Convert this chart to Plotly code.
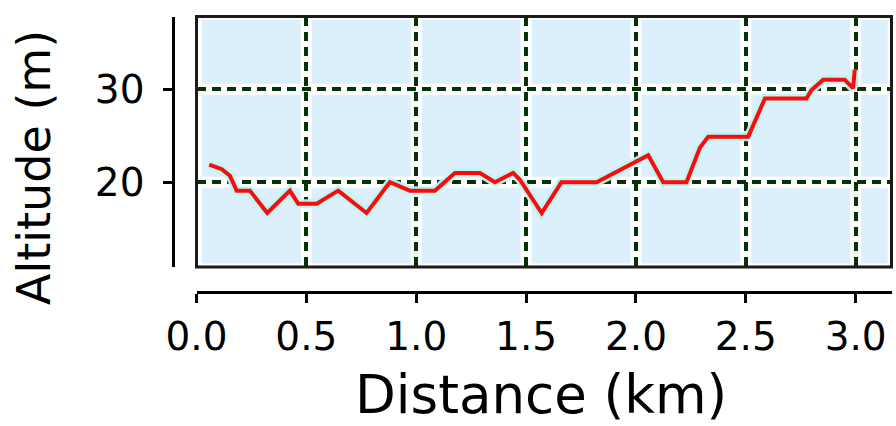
import plotly.graph_objects as go

# ---- data ----
distance_km = [0.058, 0.115, 0.152, 0.183, 0.243, 0.322, 0.425, 0.463, 0.547, 0.645,
               0.774, 0.880, 0.941, 0.971, 1.085, 1.176, 1.290, 1.358, 1.441, 1.471,
               1.571, 1.661, 1.821, 1.995, 2.056, 2.124, 2.230, 2.291, 2.329, 2.511,
               2.587, 2.776, 2.799, 2.852, 2.950, 2.988, 2.996]
altitude_m = [21.9, 21.4, 20.7, 19.1, 19.1, 16.7, 19.1, 17.7, 17.7, 19.1,
              16.7, 20.0, 19.4, 19.1, 19.1, 21.0, 21.0, 20.0, 21.0, 20.3,
              16.7, 20.0, 20.0, 22.1, 22.9, 20.0, 20.0, 23.7, 24.9, 24.9,
              29.0, 29.0, 29.9, 31.0, 31.0, 30.1, 32.1]
x_ticks = [0.0, 0.5, 1.0, 1.5, 2.0, 2.5, 3.0]
x_tick_labels = ["0.0", "0.5", "1.0", "1.5", "2.0", "2.5", "3.0"]
y_ticks = [20, 30]
y_tick_labels = ["20", "30"]

W, H = 896, 426
FONT = "DejaVu Sans"
GRID = "#063306"

fig = go.Figure()

# soft halo under the line
fig.add_trace(go.Scatter(x=distance_km, y=altitude_m, mode="lines",
                         line=dict(color="rgba(185,245,245,0.95)", width=9),
                         hoverinfo="skip", showlegend=False))
fig.add_trace(go.Scatter(x=distance_km, y=altitude_m, mode="lines",
                         line=dict(color="#ff0a0a", width=4),
                         showlegend=False))

shapes = []
# white halos behind the dashed grid
for v in x_ticks:
    shapes.append(dict(type="line", xref="x", yref="y domain", x0=v, x1=v, y0=0, y1=1,
                       line=dict(color="white", width=11), layer="below"))
for v in y_ticks:
    shapes.append(dict(type="line", xref="x domain", yref="y", x0=0, x1=1, y0=v, y1=v,
                       line=dict(color="white", width=11), layer="below"))
# inner light border
shapes.append(dict(type="rect", xref="x domain", yref="y domain", x0=0.004, x1=0.996,
                   y0=0.01, y1=0.99, line=dict(color="white", width=2), layer="below"))
# frame
shapes.append(dict(type="rect", xref="x domain", yref="y domain", x0=0, x1=1, y0=0, y1=1,
                   line=dict(color="#1e1a18", width=3), layer="above"))

fig.update_layout(
    width=W, height=H,
    margin=dict(l=0, r=0, t=0, b=0, autoexpand=False),
    paper_bgcolor="white",
    plot_bgcolor="#dcf0fb",
    shapes=shapes,
    xaxis=dict(
        domain=[196.5 / W, 891.5 / W],
        range=[0, 3.163],
        anchor="free", position=1 - 292 / H,
        automargin=False,
        tickvals=x_ticks, ticktext=x_tick_labels,
        showline=True, linecolor="black", linewidth=3,
        ticks="outside", ticklen=9, tickwidth=3, tickcolor="black",
        tickfont=dict(family=FONT, size=39, color="black"),
        ticklabelstandoff=0,
        showgrid=True, gridcolor=GRID, gridwidth=3.5, griddash="9px,6px",
        zeroline=False,
    ),
    yaxis=dict(
        domain=[1 - 267 / H, 1 - 16.5 / H],
        range=[10.9, 37.8],
        anchor="free", position=173.3 / W,
        automargin=False,
        tickvals=y_ticks, ticktext=y_tick_labels,
        showline=True, linecolor="black", linewidth=3,
        ticks="outside", ticklen=9, tickwidth=3, tickcolor="black",
        tickfont=dict(family=FONT, size=39, color="black"),
        ticklabelstandoff=11,
        showgrid=True, gridcolor=GRID, gridwidth=3.5, griddash="9px,6px",
        zeroline=False,
    ),
    annotations=[
        dict(text="Distance (km)", xref="paper", yref="paper",
             x=541 / W, y=0, xanchor="center", yanchor="bottom",
             showarrow=False, borderpad=0,
             font=dict(family=FONT, size=53, color="black")),
        dict(text="Altitude (m)", xref="paper", yref="paper",
             x=34 / W, y=1 - 168 / H, xanchor="center", yanchor="middle",
             textangle=-90, showarrow=False,
             font=dict(family=FONT, size=46, color="black")),
    ],
)

fig.write_html("out.html", config={"displayModeBar": False},
               post_script="document.body.style.margin='0';document.body.style.overflow='hidden';")
